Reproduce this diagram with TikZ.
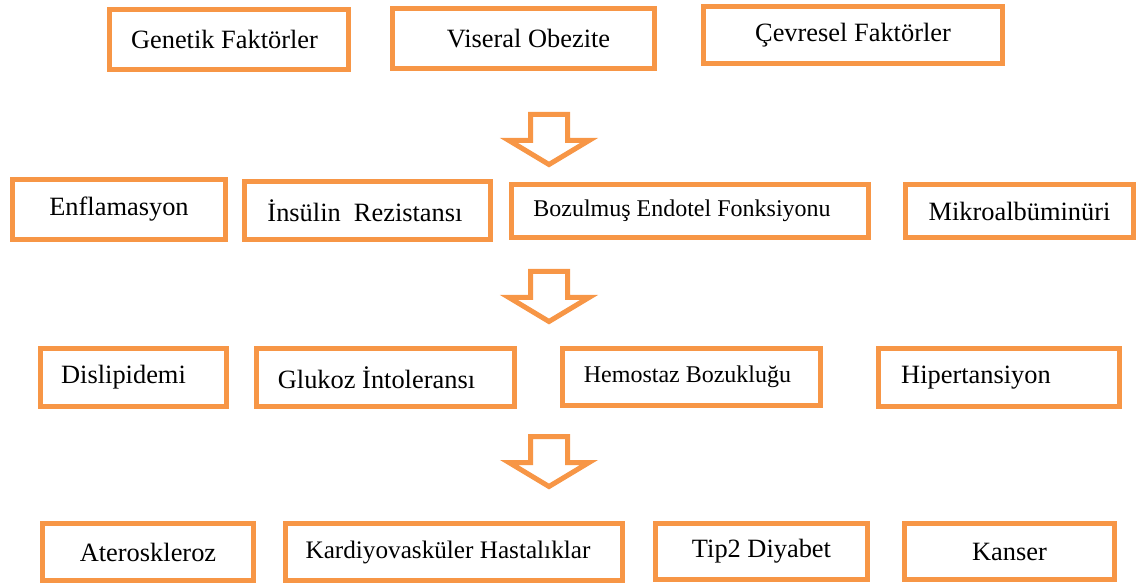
\documentclass[tikz,border=0pt]{standalone}
\usepackage{fontspec}
\setmainfont{Liberation Serif}
\usepackage{xcolor}
\usepackage{tikz}
\usetikzlibrary{positioning,calc}

\definecolor{boxorange}{RGB}{247,150,70}

\tikzset{
    factorbox/.style={draw=boxorange, line width=5pt, fill=white, inner sep=0pt,
        font=\fontsize{26.4}{30}\selectfont},
    smalltext/.style={font=\fontsize{24}{28}\selectfont},
    hollowarrow/.style={draw=boxorange, line width=5pt, fill=white}
}

\begin{document}
\begin{tikzpicture}[x=1pt, y=-1pt]
    \useasboundingbox (0,0) rectangle (1146,585);

    % Row 1: causes
    \node[factorbox, minimum width=239pt, minimum height=60pt] (gen) at (229,39.5) {\hspace*{-9pt}Genetik Faktörler};
    \node[factorbox, minimum width=262pt, minimum height=60pt] (vis) at (523.5,38.5) {\hspace*{10pt}Viseral Obezite};
    \node[factorbox, minimum width=299pt, minimum height=57pt] (cev) at (853,35) {Çevresel Faktörler};

    % Row 2
    \node[factorbox, minimum width=213pt, minimum height=60pt] (enf) at (119,209.5) {Enflamasyon};
    \node[factorbox, minimum width=246pt, minimum height=58pt] (ins) at (367.5,210.5) {\hspace*{-5pt}İnsülin~ Rezistansı};
    \node[factorbox, smalltext, minimum width=357pt, minimum height=53pt] (boz) at (690,211) {\hspace*{-16pt}Bozulmuş Endotel Fonksiyonu};
    \node[factorbox, minimum width=228pt, minimum height=53pt] (mik) at (1019.5,211) {Mikroalbüminüri};

    % Row 3
    \node[factorbox, minimum width=186pt, minimum height=58pt] (dis) at (133.5,377.5) {\hspace*{-20pt}Dislipidemi};
    \node[factorbox, minimum width=258pt, minimum height=58pt] (glu) at (385.5,377.5) {\hspace*{-18pt}Glukoz İntoleransı};
    \node[factorbox, smalltext, minimum width=258pt, minimum height=57pt] (hem) at (691.5,377) {\hspace*{-8pt}Hemostaz Bozukluğu};
    \node[factorbox, minimum width=241pt, minimum height=58pt] (hip) at (999,377.5) {\hspace*{-46pt}Hipertansiyon};

    % Row 4: outcomes
    \node[factorbox, minimum width=211pt, minimum height=57pt] (ate) at (148,552) {Ateroskleroz};
    \node[factorbox, font=\fontsize{25.2}{29}\selectfont, minimum width=337pt, minimum height=57pt] (kar) at (454,552) {\hspace*{-12pt}Kardiyovasküler Hastalıklar};
    \node[factorbox, minimum width=212pt, minimum height=56pt] (tip) at (761.5,551.5) {Tip2 Diyabet};
    \node[factorbox, minimum width=210pt, minimum height=56pt] (kan) at (1009.5,551.5) {Kanser};

    % Hollow down arrows between rows
    \foreach \ya in {114.5,271.5,436.5}
        \draw[hollowarrow] (530.5,\ya) -- ++(0,26) -- ++(-21.5,0) -- ++(40,24)
            -- ++(40,-24) -- ++(-21.5,0) -- ++(0,-26) -- cycle;

\end{tikzpicture}
\end{document}
